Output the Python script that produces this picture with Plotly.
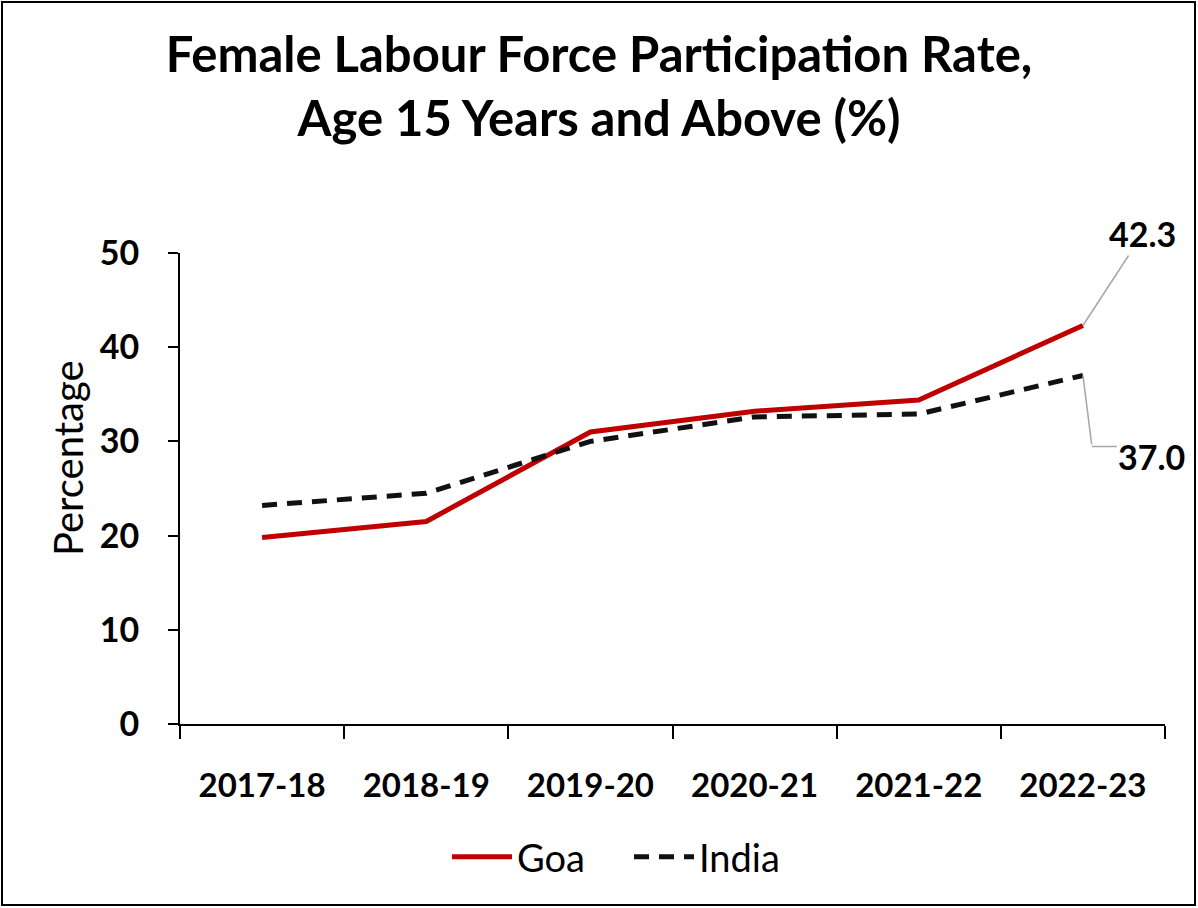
import plotly.graph_objects as go

years = ["2017-18", "2018-19", "2019-20", "2020-21", "2021-22", "2022-23"]
goa = [19.8, 21.5, 31.0, 33.2, 34.4, 42.3]
india = [23.2, 24.5, 30.0, 32.6, 32.9, 37.0]

W, H = 1198, 908
ML, MR, MT, MB = 180, 33, 253, 184
FONT = "Lato"
pw = W - ML - MR
ph = H - MT - MB


def px_x(x):
    return (x - ML) / pw


def px_y(y):
    return (H - MB - y) / ph


fig = go.Figure()
fig.add_trace(go.Scatter(x=years, y=goa, name="Goa", mode="lines",
                         line=dict(color="#C00000", width=5)))
fig.add_trace(go.Scatter(x=years, y=india, name="India", mode="lines",
                         line=dict(color="#111111", width=5, dash="15px,10px")))

# data labels with leader lines
fig.add_annotation(x=years[-1], y=goa[-1], text="<b>%.1f</b>" % goa[-1],
                   showarrow=True, arrowhead=0, arrowwidth=1.5, arrowcolor="#A6A6A6",
                   ax=60, ay=-92, font=dict(family=FONT, size=34, color="black"))
fig.add_annotation(x=years[-1], y=india[-1], text=" ", showarrow=True, arrowhead=0,
                   arrowwidth=1.5, arrowcolor="#A6A6A6", ax=9, ay=71, standoff=0,
                   font=dict(size=1))
fig.add_annotation(x=years[-1], y=india[-1], text="<b>%.1f</b>" % india[-1],
                   xshift=9, yshift=-71, showarrow=True, arrowhead=0, arrowwidth=1.5,
                   arrowcolor="#A6A6A6", ax=60, ay=0, height=62, valign="bottom",
                   font=dict(family=FONT, size=34, color="black"))

# y-axis title
fig.add_annotation(xref="paper", yref="paper", x=px_x(68), y=px_y(458),
                   text="Percentage", textangle=-90, showarrow=False,
                   xanchor="center", yanchor="middle",
                   font=dict(family=FONT, size=40, color="black"))

# outer frame
fig.add_shape(type="rect", xref="paper", yref="paper",
              x0=px_x(2), x1=px_x(W - 3), y0=px_y(H - 3), y1=px_y(2),
              line=dict(color="black", width=2), layer="below")

fig.update_layout(
    width=W, height=H,
    margin=dict(l=ML, r=MR, t=MT, b=MB),
    paper_bgcolor="white", plot_bgcolor="white",
    font=dict(family=FONT, color="black"),
    title=dict(text="<b>Female Labour Force Participation Rate,<br>Age 15 Years and Above (%)</b>",
               x=0.5, xanchor="center", xref="container",
               y=1 - 72 / H, yanchor="middle", yref="container",
               font=dict(family=FONT, size=49, color="black")),
    legend=dict(orientation="h", x=px_x(629), xanchor="center", y=px_y(857), yanchor="middle",
                font=dict(family=FONT, size=38, color="black"),
                entrywidth=107, entrywidthmode="pixels",
                itemwidth=60, bgcolor="rgba(0,0,0,0)"),
    showlegend=True,
)
fig.update_xaxes(type="category", range=[-0.5, 5.5], showgrid=False, zeroline=False,
                 showline=True, linecolor="black", linewidth=2,
                 ticks="outside", ticklen=13, tickwidth=2, tickcolor="black",
                 tickson="boundaries", ticklabelstandoff=31,
                 tickfont=dict(family=FONT, size=33, color="black", weight="bold"))
fig.update_yaxes(range=[0, 50], dtick=10, showgrid=False, zeroline=False,
                 showline=True, linecolor="black", linewidth=2,
                 ticks="outside", ticklen=10, tickwidth=2, tickcolor="black",
                 ticklabelstandoff=22,
                 tickfont=dict(family=FONT, size=34, color="black", weight="bold"))

fig.write_html("out.html", config={"displayModeBar": False},
               post_script="document.body.style.margin='0';")
